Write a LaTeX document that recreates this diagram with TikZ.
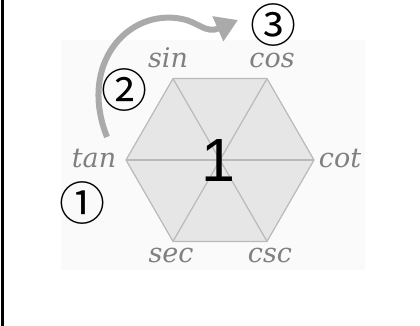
\documentclass[tikz,border=0pt]{standalone}
\usepackage{fontspec}
\newfontfamily\trigfont{DejaVu Serif}
\newfontfamily\onefont{Liberation Sans}
\newfontfamily\circfont{Noto Sans CJK SC}
\usetikzlibrary{positioning}
\usetikzlibrary{arrows.meta}
\definecolor{hexfill}{RGB}{230,230,230}
\definecolor{hexline}{RGB}{185,185,185}
\definecolor{trig}{RGB}{128,128,128}
\definecolor{bendgray}{RGB}{170,170,170}

\begin{document}
\begin{tikzpicture}[
    x=1pt, y=1pt,
    trig/.style={text=trig, font=\trigfont\itshape\fontsize{27}{27}\selectfont, inner sep=0pt, anchor=base},
    stepnum/.style={font=\circfont\fontsize{46}{46}\selectfont, inner sep=0pt},
    hexedge/.style={draw=hexline, line width=1.2pt},
]
    \useasboundingbox (0,0) rectangle (420,326);
    \fill[black!2] (61,56) rectangle (365,286);
    \draw[line width=3pt] (2.5,0) -- (2.5,326);

    % hexagon corners
    \coordinate (c) at (220,166);
    \foreach \name/\ang in {cot/0, cos/60, sin/120, tan/180, sec/240, csc/300} {
        \path (c) ++(\ang:94) coordinate (v\name);
    }
    \filldraw[fill=hexfill, hexedge] (vcot) -- (vcos) -- (vsin) -- (vtan) -- (vsec) -- (vcsc) -- cycle;
    \draw[hexedge] (vtan) -- (vcot);
    \draw[hexedge] (vsin) -- (vcsc);
    \draw[hexedge] (vcos) -- (vsec);

    \node[anchor=base, inner sep=0pt, font=\onefont\fontsize{61}{61}\selectfont] (one) at (218,144) {1};

    \node[trig] (lsin) at (168,258) {sin};
    \node[trig] (lcos) at (272,258) {cos};
    \node[trig] (ltan) at (94,158) {tan};
    \node[trig] (lcot) at (340,158) {cot};
    \node[trig] (lsec) at (171,63) {sec};
    \node[trig] (lcsc) at (270,63) {csc};

    \node[stepnum] (s1) at (82,123) {①};
    \node[stepnum] (s2) at (124,236) {②};
    \node[stepnum] (s3) at (273,301) {③};

    % curved arrow
    \coordinate (bstart) at (107,189);
    \coordinate (bend) at (238,306);
    \draw[bendgray, line width=6pt, -{Triangle[length=22pt, width=26pt]}]
        (bstart) .. controls (78,262) and (128,318) .. (182,307)
        .. controls (198,304) and (206,292) .. (bend);
\end{tikzpicture}
\end{document}
